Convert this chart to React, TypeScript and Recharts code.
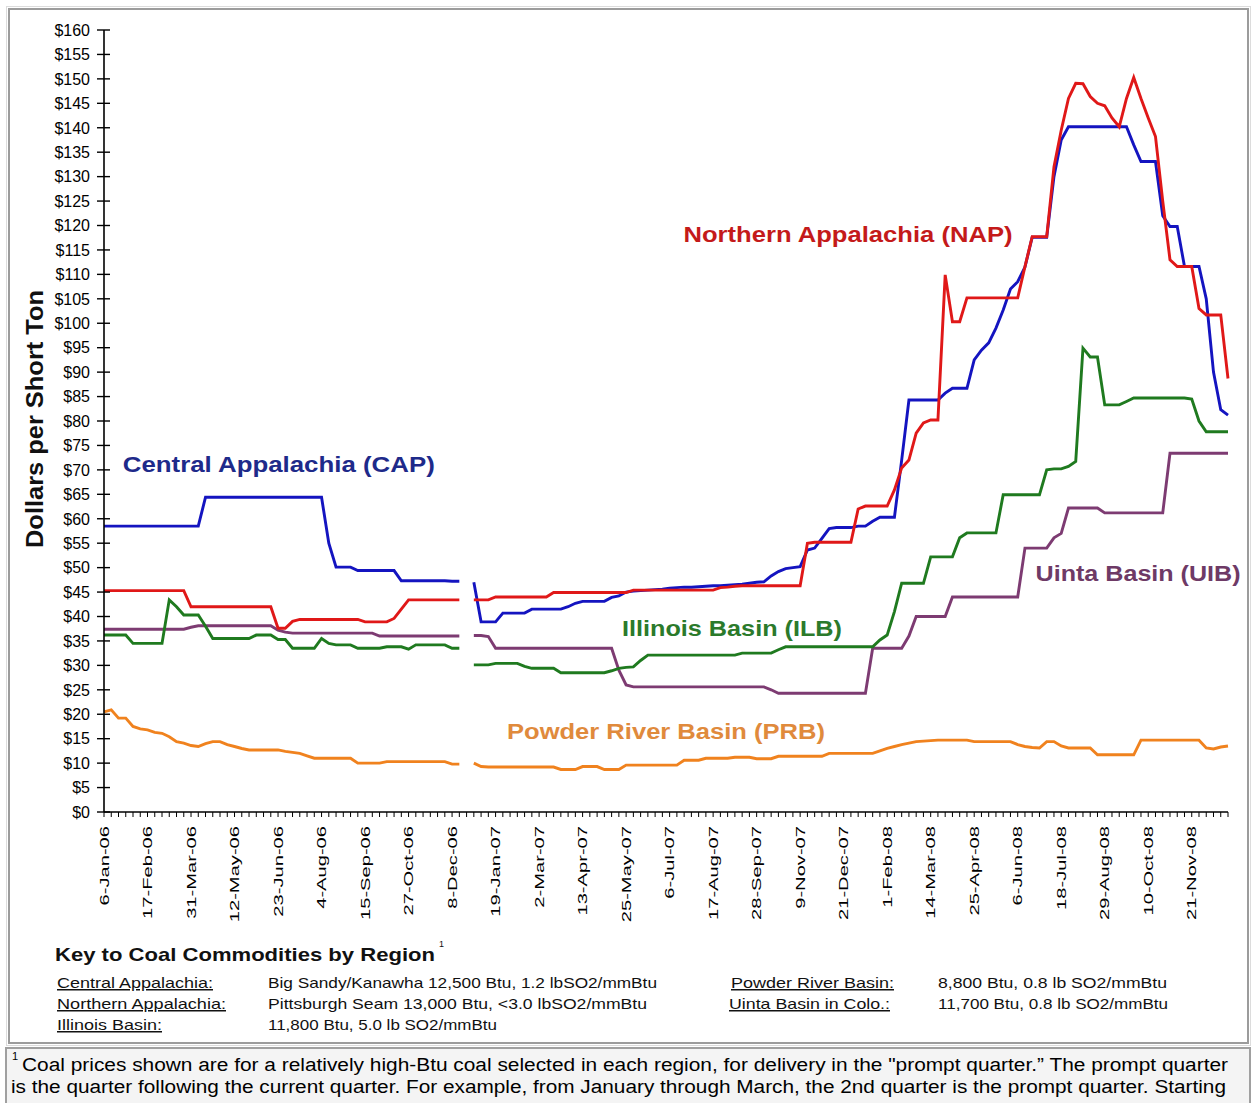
import React from 'react';
import { LineChart, Line, XAxis, YAxis, ReferenceDot } from 'recharts';

// Weekly prices, index 0 = 6-Jan-06, one value per week; null = missing week
const capPrices = [
  58.5, 58.5, 58.5, 58.5, 58.5, 58.5, 58.5, 58.5, 58.5, 58.5,
  58.5, 58.5, 58.5, 58.5, 64.4, 64.4, 64.4, 64.4, 64.4, 64.4,
  64.4, 64.4, 64.4, 64.4, 64.4, 64.4, 64.4, 64.4, 64.4, 64.4,
  64.4, 55, 50.1, 50.1, 50.1, 49.4, 49.4, 49.4, 49.4, 49.4,
  49.4, 47.3, 47.3, 47.3, 47.3, 47.3, 47.3, 47.3, 47.2, 47.2,
  null, 47, 38.9, 38.9, 38.9, 40.7, 40.7, 40.7, 40.7, 41.5,
  41.5, 41.5, 41.5, 41.5, 42.0, 42.7, 43.1, 43.1, 43.1, 43.1,
  43.9, 44.2, 45.0, 45.2, 45.3, 45.4, 45.5, 45.6, 45.8, 45.9,
  46.0, 46.0, 46.1, 46.2, 46.3, 46.3, 46.4, 46.5, 46.6, 46.8,
  47.0, 47.1, 48.3, 49.2, 49.8, 50.0, 50.2, 53.6, 54.0, 56.0,
  58.0, 58.2, 58.2, 58.2, 58.5, 58.5, 59.5, 60.3, 60.3, 60.3,
  72, 84.3, 84.3, 84.3, 84.3, 84.3, 85.7, 86.7, 86.7, 86.7,
  92.5, 94.5, 96, 99, 102.7, 107, 108.5, 111.5, 117.6, 117.6,
  117.6, 130, 137.5, 140.2, 140.2, 140.2, 140.2, 140.2, 140.2, 140.2,
  140.2, 140.2, 136.5, 133.1, 133.1, 133.1, 122, 119.8, 119.8, 111.6,
  111.6, 111.6, 105, 90, 82.3, 81.2,
];

const napPrices = [
  45.3, 45.3, 45.3, 45.3, 45.3, 45.3, 45.3, 45.3, 45.3, 45.3,
  45.3, 45.3, 42, 42, 42, 42, 42, 42, 42, 42,
  42, 42, 42, 42, 37.6, 37.6, 39.0, 39.4, 39.4, 39.4,
  39.4, 39.4, 39.4, 39.4, 39.4, 39.4, 38.9, 38.9, 38.9, 38.9,
  39.6, 41.5, 43.4, 43.4, 43.4, 43.4, 43.4, 43.4, 43.4, 43.4,
  null, 43.4, 43.4, 43.4, 44.0, 44.0, 44.0, 44.0, 44.0, 44.0,
  44.0, 44.0, 44.9, 44.9, 44.9, 44.9, 44.9, 44.9, 44.9, 44.9,
  44.9, 44.9, 44.9, 45.4, 45.4, 45.4, 45.4, 45.4, 45.4, 45.4,
  45.4, 45.4, 45.4, 45.4, 45.4, 45.9, 46.0, 46.2, 46.3, 46.3,
  46.3, 46.3, 46.3, 46.3, 46.3, 46.3, 46.3, 55, 55.2, 55.2,
  55.2, 55.2, 55.2, 55.2, 62, 62.6, 62.6, 62.6, 62.6, 65.9,
  70.4, 72, 77.5, 79.6, 80.2, 80.2, 109.9, 100.3, 100.3, 105.2,
  105.2, 105.2, 105.2, 105.2, 105.2, 105.2, 105.2, 111.6, 117.7, 117.7,
  117.7, 132, 139.5, 146, 149.1, 149, 146.4, 145, 144.5, 142,
  140.2, 146, 150.3, 146, 142, 138.2, 125, 113, 111.6, 111.6,
  111.6, 103, 101.7, 101.7, 101.7, 88.7,
];

const ilbPrices = [
  36.2, 36.2, 36.2, 36.2, 34.5, 34.5, 34.5, 34.5, 34.5, 43.4,
  42, 40.3, 40.3, 40.3, 38, 35.5, 35.5, 35.5, 35.5, 35.5,
  35.5, 36.2, 36.2, 36.2, 35.3, 35.3, 33.5, 33.5, 33.5, 33.5,
  35.5, 34.5, 34.2, 34.2, 34.2, 33.5, 33.5, 33.5, 33.5, 33.8,
  33.8, 33.8, 33.3, 34.2, 34.2, 34.2, 34.2, 34.2, 33.5, 33.5,
  null, 30.1, 30.1, 30.1, 30.4, 30.4, 30.4, 30.4, 29.8, 29.4,
  29.4, 29.4, 29.4, 28.5, 28.5, 28.5, 28.5, 28.5, 28.5, 28.5,
  28.9, 29.4, 29.6, 29.7, 31, 32.1, 32.1, 32.1, 32.1, 32.1,
  32.1, 32.1, 32.1, 32.1, 32.1, 32.1, 32.1, 32.1, 32.5, 32.5,
  32.5, 32.5, 32.5, 33.2, 33.8, 33.8, 33.8, 33.8, 33.8, 33.8,
  33.8, 33.8, 33.8, 33.8, 33.8, 33.8, 33.8, 35.2, 36.2, 41,
  46.8, 46.8, 46.8, 46.8, 52.2, 52.2, 52.2, 52.2, 56.1, 57.1,
  57.1, 57.1, 57.1, 57.1, 64.9, 64.9, 64.9, 64.9, 64.9, 64.9,
  70, 70.2, 70.2, 70.7, 71.7, 94.9, 93.1, 93.1, 83.3, 83.3,
  83.3, 84, 84.7, 84.7, 84.7, 84.7, 84.7, 84.7, 84.7, 84.7,
  84.5, 80, 77.8, 77.8, 77.8, 77.8,
];

const uibPrices = [
  37.4, 37.4, 37.4, 37.4, 37.4, 37.4, 37.4, 37.4, 37.4, 37.4,
  37.4, 37.4, 37.8, 38.1, 38.1, 38.1, 38.1, 38.1, 38.1, 38.1,
  38.1, 38.1, 38.1, 38.1, 37.2, 36.8, 36.6, 36.6, 36.6, 36.6,
  36.6, 36.6, 36.6, 36.6, 36.6, 36.6, 36.6, 36.6, 36.0, 36.0,
  36.0, 36.0, 36.0, 36.0, 36.0, 36.0, 36.0, 36.0, 36.0, 36.0,
  null, 36.1, 36.1, 35.9, 33.5, 33.5, 33.5, 33.5, 33.5, 33.5,
  33.5, 33.5, 33.5, 33.5, 33.5, 33.5, 33.5, 33.5, 33.5, 33.5,
  33.5, 29, 26.0, 25.6, 25.6, 25.6, 25.6, 25.6, 25.6, 25.6,
  25.6, 25.6, 25.6, 25.6, 25.6, 25.6, 25.6, 25.6, 25.6, 25.6,
  25.6, 25.6, 25.0, 24.3, 24.3, 24.3, 24.3, 24.3, 24.3, 24.3,
  24.3, 24.3, 24.3, 24.3, 24.3, 24.3, 33.5, 33.5, 33.5, 33.5,
  33.5, 36, 40, 40, 40, 40, 40, 44, 44, 44,
  44, 44, 44, 44, 44, 44, 44, 54, 54, 54,
  54, 56.1, 57, 62.2, 62.2, 62.2, 62.2, 62.2, 61.2, 61.2,
  61.2, 61.2, 61.2, 61.2, 61.2, 61.2, 61.2, 73.4, 73.4, 73.4,
  73.4, 73.4, 73.4, 73.4, 73.4, 73.4,
];

const prbPrices = [
  20.5, 20.9, 19.2, 19.2, 17.5, 17.0, 16.8, 16.3, 16.1, 15.4,
  14.4, 14.1, 13.6, 13.4, 14.0, 14.4, 14.4, 13.8, 13.4, 13.0,
  12.7, 12.7, 12.7, 12.7, 12.7, 12.4, 12.2, 12.0, 11.5, 11.0,
  11.0, 11.0, 11.0, 11.0, 11.0, 10.0, 10.0, 10.0, 10.0, 10.3,
  10.3, 10.3, 10.3, 10.3, 10.3, 10.3, 10.3, 10.3, 9.8, 9.8,
  null, 10.0, 9.3, 9.2, 9.2, 9.2, 9.2, 9.2, 9.2, 9.2,
  9.2, 9.2, 9.2, 8.7, 8.7, 8.7, 9.3, 9.3, 9.3, 8.7,
  8.7, 8.7, 9.6, 9.6, 9.6, 9.6, 9.6, 9.6, 9.6, 9.6,
  10.6, 10.6, 10.6, 11.0, 11.0, 11.0, 11.0, 11.2, 11.2, 11.2,
  10.9, 10.9, 10.9, 11.4, 11.4, 11.4, 11.4, 11.4, 11.4, 11.4,
  12.0, 12.0, 12.0, 12.0, 12.0, 12.0, 12.0, 12.5, 13.0, 13.4,
  13.8, 14.1, 14.4, 14.5, 14.6, 14.7, 14.7, 14.7, 14.7, 14.7,
  14.4, 14.4, 14.4, 14.4, 14.4, 14.4, 13.8, 13.4, 13.2, 13.1,
  14.4, 14.4, 13.5, 13.1, 13.1, 13.1, 13.1, 11.7, 11.7, 11.7,
  11.7, 11.7, 11.7, 14.7, 14.7, 14.7, 14.7, 14.7, 14.7, 14.7,
  14.7, 14.7, 13.1, 12.9, 13.3, 13.5,
];

// Labels shown every 6 weeks
const tickLabels = [
  '6-Jan-06', '17-Feb-06', '31-Mar-06', '12-May-06', '23-Jun-06', '4-Aug-06',
  '15-Sep-06', '27-Oct-06', '8-Dec-06', '19-Jan-07', '2-Mar-07', '13-Apr-07',
  '25-May-07', '6-Jul-07', '17-Aug-07', '28-Sep-07', '9-Nov-07', '21-Dec-07',
  '1-Feb-08', '14-Mar-08', '25-Apr-08', '6-Jun-08', '18-Jul-08', '29-Aug-08',
  '10-Oct-08', '21-Nov-08',
];

const yTicks = [0, 5, 10, 15, 20, 25, 30, 35, 40, 45, 50, 55, 60, 65, 70, 75, 80,
  85, 90, 95, 100, 105, 110, 115, 120, 125, 130, 135, 140, 145, 150, 155, 160];

const weekIndex = capPrices.map((_, i) => i);
const data = weekIndex.map((w) => ({
  week: w,
  cap: capPrices[w],
  nap: napPrices[w],
  ilb: ilbPrices[w],
  uib: uibPrices[w],
  prb: prbPrices[w],
}));

const FONT = "'Liberation Sans', Arial, sans-serif";

const XTick = (props: any) => {
  const { x, y, payload } = props;
  const v = payload.value;
  if (v % 6 !== 0 || !tickLabels[v / 6]) return <g />;
  return (
    <g transform={`translate(${x},${y})`}>
      <text transform="rotate(-90) scale(1.55,1)" textAnchor="end" dy="0.36em"
        fontSize={13} fontFamily={FONT} fill="#000">{tickLabels[v / 6]}</text>
    </g>
  );
};

const YTick = (props: any) => {
  const { x, y, payload } = props;
  return (
    <g>
      <line x1={x - 7} x2={x + 6} y1={y} y2={y} stroke="#000" strokeWidth={1.4} />
      <text x={x - 14} y={y} dy="0.36em" textAnchor="end" fontSize={16}
        fontFamily={FONT} fill="#000">{'$' + payload.value}</text>
    </g>
  );
};

const seriesText = (text: string, color: string, len: number) => (p: any) => (
  <text x={p.cx} y={p.cy} textAnchor="middle" dominantBaseline="central"
    fontSize={22} fontWeight="bold" fontFamily={FONT} fill={color}
    textLength={len} lengthAdjust="spacingAndGlyphs">{text}</text>
);

const keyStyle = { fontFamily: FONT, fontSize: 15, fill: '#111' } as any;

export default function App() {
  return (
    <div style={{ position: 'absolute', left: 0, top: 0, width: 1252, height: 1103, background: '#fff', overflow: 'hidden' }}>
      <svg width={1252} height={1103} style={{ position: 'absolute', left: 0, top: 0 }}>
        {/* chart cell frame */}
        <rect x={6.5} y={6.5} width={1244} height={1039} fill="#fff" stroke="#dcdcdc" strokeWidth={1} />
        <rect x={9} y={9} width={1239} height={1034} fill="none" stroke="#9c9c9c" strokeWidth={2} />
        {/* footnote cell */}
        <rect x={6} y={1048} width={1244} height={60} fill="#f4f4f4" stroke="#a0a0a0" strokeWidth={2} />
        {/* y title */}
        <text transform="translate(34,419) rotate(-90)" textAnchor="middle" dominantBaseline="central"
          fontSize={24} fontWeight="bold" fontFamily={FONT} fill="#111"
          textLength={258} lengthAdjust="spacingAndGlyphs">Dollars per Short Ton</text>
        {/* key */}
        <text x={55} y={961} fontSize={19} fontWeight="bold" fontFamily={FONT} fill="#111"
          textLength={380} lengthAdjust="spacingAndGlyphs">Key to Coal Commodities by Region</text>
        <text x={439} y={947} fontSize={9} fontFamily={FONT} fill="#111">1</text>

        <text x={57} y={988} {...keyStyle} textDecoration="underline" textLength={156} lengthAdjust="spacingAndGlyphs">Central Appalachia:</text>
        <text x={57} y={1009} {...keyStyle} textDecoration="underline" textLength={169} lengthAdjust="spacingAndGlyphs">Northern Appalachia:</text>
        <text x={57} y={1030} {...keyStyle} textDecoration="underline" textLength={105} lengthAdjust="spacingAndGlyphs">Illinois Basin:</text>
        <text x={268} y={988} {...keyStyle} textLength={389} lengthAdjust="spacingAndGlyphs">Big Sandy/Kanawha 12,500 Btu, 1.2 lbSO2/mmBtu</text>
        <text x={268} y={1009} {...keyStyle} textLength={379} lengthAdjust="spacingAndGlyphs">Pittsburgh Seam 13,000 Btu, &lt;3.0 lbSO2/mmBtu</text>
        <text x={268} y={1030} {...keyStyle} textLength={229} lengthAdjust="spacingAndGlyphs">11,800 Btu, 5.0 lb SO2/mmBtu</text>
        <text x={731} y={988} {...keyStyle} textDecoration="underline" textLength={163} lengthAdjust="spacingAndGlyphs">Powder River Basin:</text>
        <text x={729} y={1009} {...keyStyle} textDecoration="underline" textLength={161} lengthAdjust="spacingAndGlyphs">Uinta Basin in Colo.:</text>
        <text x={938} y={988} {...keyStyle} textLength={229} lengthAdjust="spacingAndGlyphs">8,800 Btu, 0.8 lb SO2/mmBtu</text>
        <text x={938} y={1009} {...keyStyle} textLength={230} lengthAdjust="spacingAndGlyphs">11,700 Btu, 0.8 lb SO2/mmBtu</text>

        {/* footnote */}
        <text x={12} y={1060} fontSize={11} fontFamily={FONT} fill="#000">1</text>
        <text x={22} y={1071} fontSize={18} fontFamily={FONT} fill="#000" textLength={1206} lengthAdjust="spacingAndGlyphs">
          Coal prices shown are for a relatively high-Btu coal selected in each region, for delivery in the "prompt quarter.” The prompt quarter
        </text>
        <text x={11} y={1093} fontSize={18} fontFamily={FONT} fill="#000" textLength={1215} lengthAdjust="spacingAndGlyphs">
          is the quarter following the current quarter. For example, from January through March, the 2nd quarter is the prompt quarter. Starting
        </text>
      </svg>

      <div style={{ position: 'absolute', left: 0, top: 0 }}>
        <LineChart width={1252} height={932} data={data} margin={{ top: 30, right: 24, bottom: 0, left: 0 }}>
          <XAxis dataKey="week" type="number" domain={[0, 155]} ticks={weekIndex} interval={0}
            height={120} tick={<XTick />} tickSize={5} tickMargin={9}
            axisLine={{ stroke: '#000', strokeWidth: 1.6 }} tickLine={{ stroke: '#000', strokeWidth: 1 }} />
          <YAxis domain={[0, 160]} ticks={yTicks} interval={0} width={104} tick={<YTick />}
            tickSize={0} tickMargin={0} tickLine={false} axisLine={{ stroke: '#000', strokeWidth: 1.6 }} />
          <Line type="linear" dataKey="prb" stroke="#f0821e" strokeWidth={2.9} dot={false} isAnimationActive={false} connectNulls={false} />
          <Line type="linear" dataKey="uib" stroke="#7d3b72" strokeWidth={2.9} dot={false} isAnimationActive={false} connectNulls={false} />
          <Line type="linear" dataKey="ilb" stroke="#1f7a1f" strokeWidth={2.9} dot={false} isAnimationActive={false} connectNulls={false} />
          <Line type="linear" dataKey="cap" stroke="#1414c0" strokeWidth={2.9} dot={false} isAnimationActive={false} connectNulls={false} />
          <Line type="linear" dataKey="nap" stroke="#e01818" strokeWidth={2.9} dot={false} isAnimationActive={false} connectNulls={false} />
          <ReferenceDot x={24.1} y={71} r={0} ifOverflow="visible" shape={seriesText('Central Appalachia (CAP)', '#1e2a8a', 312)} />
          <ReferenceDot x={102.6} y={118.1} r={0} ifOverflow="visible" shape={seriesText('Northern Appalachia (NAP)', '#c41a1a', 329)} />
          <ReferenceDot x={86.6} y={37.6} r={0} ifOverflow="visible" shape={seriesText('Illinois Basin (ILB)', '#2b7a2b', 220)} />
          <ReferenceDot x={77.5} y={16.4} r={0} ifOverflow="visible" shape={seriesText('Powder River Basin (PRB)', '#e08a3c', 318)} />
          <ReferenceDot x={142.6} y={48.9} r={0} ifOverflow="visible" shape={seriesText('Uinta Basin (UIB)', '#6e3a66', 205)} />
        </LineChart>
      </div>
    </div>
  );
}
